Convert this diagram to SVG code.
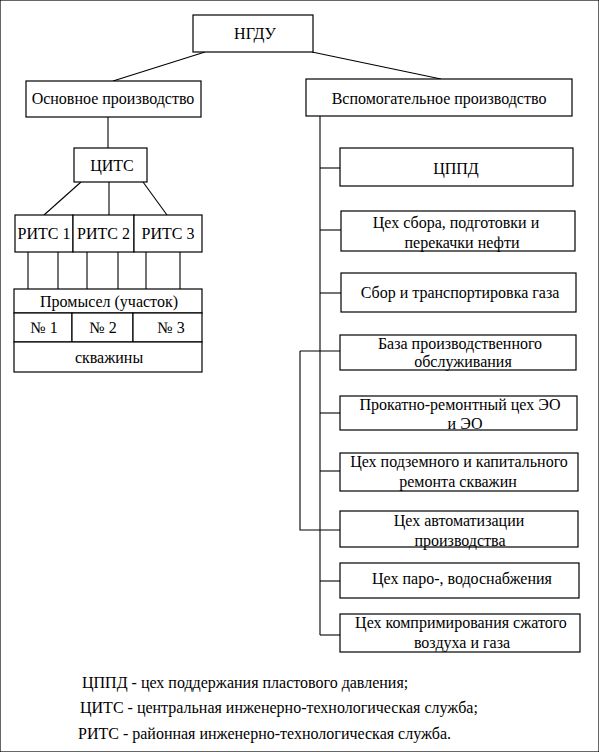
<svg xmlns="http://www.w3.org/2000/svg" width="599" height="752" viewBox="0 0 599 752">
<style>
rect{fill:#fff;stroke:#000;stroke-width:1.2}
line,polyline{stroke:#000;stroke-width:1.1;fill:none}
text{font-family:"Liberation Serif","Times New Roman",serif;font-size:16px;fill:#000;text-anchor:middle}
.l{text-anchor:start}
</style>
<rect width="599" height="752" fill="#fff" stroke="none"/>
<g id="connectors">
<line x1="205" y1="52" x2="113" y2="81"/>
<line x1="312" y1="52" x2="441" y2="79"/>
<line x1="108" y1="117" x2="108" y2="148"/>
<line x1="81" y1="182" x2="44" y2="215"/>
<line x1="109" y1="182" x2="109" y2="215"/>
<line x1="143" y1="182" x2="167" y2="215"/>
<line x1="28" y1="252" x2="28" y2="289"/>
<line x1="58" y1="252" x2="58" y2="289"/>
<line x1="87" y1="252" x2="87" y2="289"/>
<line x1="118" y1="252" x2="118" y2="289"/>
<line x1="146" y1="252" x2="146" y2="289"/>
<line x1="180" y1="252" x2="180" y2="289"/>
<line x1="320" y1="116" x2="320" y2="635"/>
<line x1="320" y1="168" x2="340" y2="168"/>
<line x1="320" y1="230" x2="341" y2="230"/>
<line x1="320" y1="293" x2="341" y2="293"/>
<line x1="300" y1="351" x2="340" y2="351"/>
<line x1="320" y1="413" x2="340" y2="413"/>
<line x1="320" y1="471" x2="340" y2="471"/>
<polyline points="300,351 300,530 340,530"/>
<line x1="320" y1="581" x2="340" y2="581"/>
<line x1="320" y1="635" x2="340" y2="635"/>
</g>
<g id="ngdu"><rect x="193" y="15" width="120" height="37"/><text x="255" y="39">НГДУ</text></g>
<g id="osn"><rect x="26" y="81" width="175" height="36"/><text x="113" y="104">Основное производство</text></g>
<g id="vsp"><rect x="306" y="79" width="266" height="37"/><text x="439" y="104">Вспомогательное производство</text></g>
<g id="cits"><rect x="74" y="148" width="73" height="34"/><text x="112" y="171">ЦИТС</text></g>
<g id="rits1"><rect x="15" y="215" width="58" height="37"/><text x="44" y="239">РИТС 1</text></g>
<g id="rits2"><rect x="73" y="215" width="61" height="37"/><text x="103.5" y="239">РИТС 2</text></g>
<g id="rits3"><rect x="134" y="215" width="68" height="37"/><text x="168" y="239">РИТС 3</text></g>
<g id="promysel">
<rect x="14" y="289" width="188" height="24"/><text x="109" y="307">Промысел (участок)</text>
<rect x="14" y="313" width="58" height="29"/><text x="44" y="333">№ 1</text>
<rect x="72" y="313" width="61" height="29"/><text x="103" y="333">№ 2</text>
<rect x="133" y="313" width="69" height="29"/><text x="171" y="333">№ 3</text>
<rect x="14" y="342" width="188" height="30"/><text x="109" y="363">скважины</text>
</g>
<g id="cppd"><rect x="340" y="148" width="233" height="38"/><text x="456" y="174">ЦППД</text></g>
<g id="sbor"><rect x="341" y="211" width="234" height="40"/><text x="456" y="228">Цех сбора, подготовки и</text><text x="462" y="248">перекачки нефти</text></g>
<g id="gaz"><rect x="341" y="273" width="235" height="39"/><text x="460" y="298">Сбор и транспортировка газа</text></g>
<g id="baza"><rect x="340" y="335" width="236" height="35"/><text x="460" y="349">База производственного</text><text x="463" y="367">обслуживания</text></g>
<g id="prokat"><rect x="340" y="396" width="237" height="34"/><text x="460" y="410">Прокатно-ремонтный цех ЭО</text><text x="465" y="429">и ЭО</text></g>
<g id="podzem"><rect x="340" y="453" width="238" height="38"/><text x="459" y="467">Цех подземного и капитального</text><text x="458" y="487">ремонта скважин</text></g>
<g id="avtom"><rect x="340" y="511" width="238" height="36"/><text x="459" y="526">Цех автоматизации</text><text x="460" y="546">производства</text></g>
<g id="paro"><rect x="340" y="563" width="239" height="35"/><text x="462" y="584">Цех паро-, водоснабжения</text></g>
<g id="kompr"><rect x="340" y="614" width="240" height="38"/><text x="461" y="628">Цех компримирования сжатого</text><text x="462" y="648">воздуха и газа</text></g>
<g id="legend">
<text class="l" x="82" y="688">ЦППД - цех поддержания пластового давления;</text>
<text class="l" x="80" y="713">ЦИТС - центральная инженерно-технологическая служба;</text>
<text class="l" x="78" y="739">РИТС - районная инженерно-технологическая служба.</text>
</g>
</svg>
